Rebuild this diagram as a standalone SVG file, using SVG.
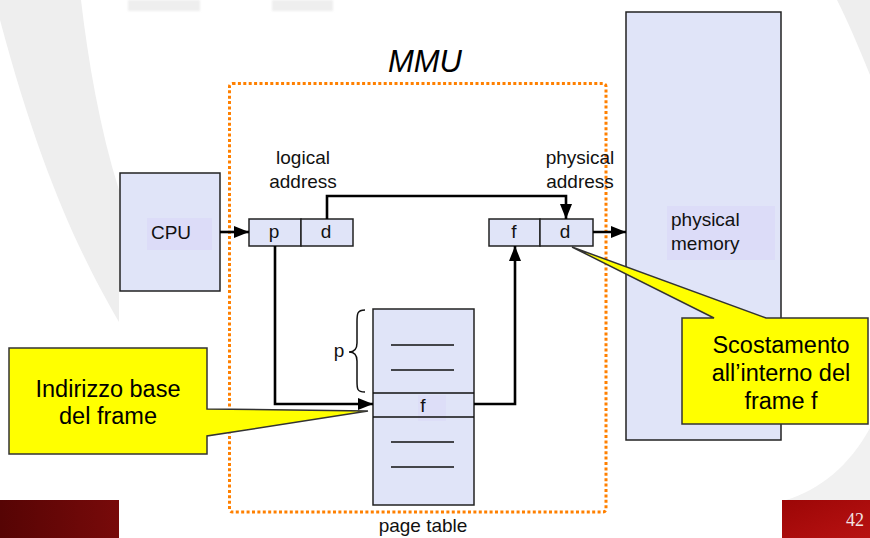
<svg xmlns="http://www.w3.org/2000/svg" width="870" height="538" viewBox="0 0 870 538">
  <style>
    .box { fill: #e0e4f8; stroke: #222; stroke-width: 1.5; }
    .hl { fill: #dcdcf8; }
    .wire { fill: none; stroke: #000; stroke-width: 2.6; }
    .rule { stroke: #111; stroke-width: 1.6; }
    .lbl { font-family: "Liberation Sans", Arial, sans-serif; font-size: 19px; fill: #111; }
    .mid { text-anchor: middle; }
    .call { fill: #ffff00; stroke: #333; stroke-width: 1.5; stroke-linejoin: miter; }
    .ctext { font-family: "Liberation Sans", Arial, sans-serif; font-size: 23.5px; fill: #000; text-anchor: middle; }
    .wm { fill: #eeeeee; }
  </style>
  <defs>
    <marker id="head" markerUnits="userSpaceOnUse" markerWidth="16" markerHeight="12" refX="15" refY="6" orient="auto">
      <path d="M0,0 L15,6 L0,12 Z" fill="#000"/>
    </marker>
    <linearGradient id="barL" x1="0" y1="0" x2="1" y2="0">
      <stop offset="0" stop-color="#560404"/>
      <stop offset="1" stop-color="#780a0a"/>
    </linearGradient>
    <linearGradient id="barR" x1="0" y1="0" x2="1" y2="1">
      <stop offset="0" stop-color="#9c0606"/>
      <stop offset="1" stop-color="#b81212"/>
    </linearGradient>
    <filter id="soft" x="-10%" y="-10%" width="120%" height="120%">
      <feGaussianBlur stdDeviation="1.2"/>
    </filter>
  </defs>

  <!-- background -->
  <rect width="870" height="538" fill="#fff"/>
  <g id="watermark">
    <path class="wm" d="M0,0 L81,0 C88,60 100,130 119,190 L119,322 C80,255 40,170 0,20 Z"/>
    <rect class="wm" x="128" y="0" width="72" height="11" filter="url(#soft)"/>
    <rect class="wm" x="272" y="0" width="61" height="11" filter="url(#soft)"/>
    <path class="wm" d="M837,0 L870,0 L870,75 C858,45 848,22 837,0 Z"/>
    <path d="M870,428 C850,465 820,490 786,500 L870,500 Z" fill="#f1f1f1"/>
  </g>

  <!-- slide footer -->
  <g id="footer">
    <rect x="0" y="500" width="119" height="38" fill="url(#barL)"/>
    <rect x="782" y="500" width="88" height="38" fill="url(#barR)"/>
    <text x="855" y="526" text-anchor="middle" font-family="'Liberation Serif', 'Times New Roman', serif" font-size="18" fill="#f2e4e4">42</text>
  </g>

  <!-- MMU boundary -->
  <g id="mmu">
    <rect x="229.5" y="83.5" width="376.5" height="428.5" rx="3" fill="none" stroke="#ff8000" stroke-width="3" stroke-dasharray="3 2.4"/>
    <text x="425" y="72" text-anchor="middle" font-family="'Liberation Sans', Arial, sans-serif" font-style="italic" font-size="31" fill="#000">MMU</text>
  </g>

  <!-- CPU -->
  <g id="cpu">
    <rect class="box" x="120" y="173" width="100" height="118"/>
    <rect class="hl" x="147" y="218" width="65" height="32"/>
    <text class="lbl mid" x="171" y="239">CPU</text>
  </g>

  <!-- physical memory -->
  <g id="memory">
    <rect class="box" x="626" y="12" width="155" height="428" stroke-width="1.8"/>
    <rect class="hl" x="667" y="206" width="108" height="54"/>
    <text class="lbl" x="671" y="226">physical</text>
    <text class="lbl" x="671" y="250">memory</text>
  </g>

  <!-- logical address register -->
  <g id="logical">
    <text class="lbl mid" x="303" y="164">logical</text>
    <text class="lbl mid" x="303" y="188">address</text>
    <rect class="box" x="249" y="219" width="52" height="27"/>
    <rect class="box" x="301" y="219" width="52" height="27"/>
    <text class="lbl mid" x="274" y="238">p</text>
    <text class="lbl mid" x="326" y="238">d</text>
  </g>

  <!-- physical address register -->
  <g id="physical">
    <text class="lbl mid" x="580" y="164">physical</text>
    <text class="lbl mid" x="580" y="188">address</text>
    <rect class="box" x="489" y="219" width="51" height="27"/>
    <rect class="box" x="540" y="219" width="53" height="27"/>
    <text class="lbl mid" x="514" y="238">f</text>
    <text class="lbl mid" x="565" y="238">d</text>
  </g>

  <!-- page table -->
  <g id="pagetable">
    <rect class="box" x="373" y="309" width="101" height="196"/>
    <rect class="hl" x="418" y="395" width="28" height="26" opacity="0.7"/>
    <line class="rule" x1="373" y1="393" x2="474" y2="393"/>
    <line class="rule" x1="373" y1="417" x2="474" y2="417"/>
    <line class="rule" x1="391" y1="345" x2="454" y2="345"/>
    <line class="rule" x1="391" y1="370" x2="454" y2="370"/>
    <line class="rule" x1="391" y1="442" x2="454" y2="442"/>
    <line class="rule" x1="391" y1="467" x2="454" y2="467" stroke-width="2.2"/>
    <text class="lbl mid" x="423" y="412" font-size="17">f</text>
    <path d="M365,310 C357,310 357,314 357,322 L357,343 C357,349 355,352 349,352 C355,352 357,355 357,361 L357,381 C357,389 357,392 365,392" fill="none" stroke="#111" stroke-width="1.5"/>
    <text class="lbl mid" x="339" y="357">p</text>
    <text class="lbl mid" x="423" y="532">page table</text>
  </g>

  <!-- connectors -->
  <g id="connectors">
    <line class="wire" x1="220" y1="232" x2="249" y2="232" marker-end="url(#head)"/>
    <polyline class="wire" points="327,219 327,196 566,196 566,219" marker-end="url(#head)"/>
    <line class="wire" x1="593" y1="232" x2="626" y2="232" marker-end="url(#head)"/>
    <polyline class="wire" points="275,246 275,404 373,404" marker-end="url(#head)"/>
    <polyline class="wire" points="474,404 515,404 515,246" marker-end="url(#head)"/>
  </g>

  <!-- callouts -->
  <g id="callout-base">
    <path class="call" d="M9,348 H207 V409 L368,411 L207,436 V454 H9 Z"/>
    <text class="ctext" x="108" y="397">Indirizzo base</text>
    <text class="ctext" x="108" y="424">del frame</text>
  </g>
  <g id="callout-offset">
    <path class="call" d="M682,318 H714 L572,247 L766,318 H868 V424 H682 Z"/>
    <text class="ctext" x="781" y="353">Scostamento</text>
    <text class="ctext" x="781" y="381">all’interno del</text>
    <text class="ctext" x="781" y="409">frame f</text>
  </g>
</svg>
